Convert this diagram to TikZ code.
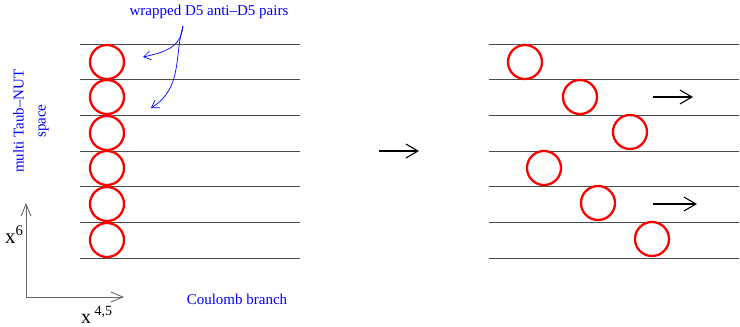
\documentclass[tikz,border=0pt]{standalone}
\usepackage{fontspec}
\setmainfont{Liberation Serif}
\usetikzlibrary{arrows.meta}

\begin{document}
\begin{tikzpicture}[x=1pt,y=-1pt,
  leaf/.style={black!70,line width=.9pt},
  brane/.style={draw=red,line width=2.3pt,circle,minimum size=34pt,inner sep=0pt},
  note/.style={blue,font=\fontsize{15}{22}\selectfont},
  move/.style={-{Straight Barb[length=12pt,width=14pt]},line width=1.1pt},
  point/.style={-{Straight Barb[length=7pt,width=9pt]},blue,line width=.7pt},
  axis/.style={-{Straight Barb[length=12pt,width=10pt]},black!60,line width=.9pt}]
  \useasboundingbox (0,0) rectangle (740,327);
  % centres of the Taub-NUT
  \foreach \y in {44,79,115,151,186,222,258} {
    \draw[leaf] (80,\y) -- (300,\y);
    \draw[leaf] (489,\y) -- (739,\y);
  }
  % branes on the left: stacked
  \foreach \i/\y in {1/62,2/97,3/133,4/168,5/204,6/240}
    \node[brane] (l\i) at (107,\y) {};
  % branes on the right: moved apart
  \node[brane] (r1) at (525,62) {};
  \node[brane] (r2) at (580,97) {};
  \node[brane] (r3) at (630,132) {};
  \node[brane] (r4) at (544,168) {};
  \node[brane] (r5) at (598,203) {};
  \node[brane] (r6) at (652,239) {};
  \draw[move] (379,151) -- (419,151);
  \draw[move] (653,97) -- (693,97);
  \draw[move] (653,204) -- (697,204);
  % labels
  \node[note] (pairs) at (209,12) {wrapped D5 anti--D5 pairs};
  \coordinate (fork) at (183,26);
  \coordinate (tip1) at (143,57);
  \coordinate (tip2) at (151,108);
  \draw[point] (fork) .. controls (181,47) and (166,52) .. (tip1);
  \draw[point] (fork) .. controls (174,56) and (183,88) .. (tip2);
  \node[note,rotate=90,align=center] (taub) at (31,121) {multi Taub--NUT\\space};
  \node[note] (coulomb) at (237,299) {Coulomb branch};
  % axes
  \coordinate (origin) at (26,297);
  \draw[axis] (origin) -- (26,203);
  \draw[axis] (origin) -- (124,297);
  \node[anchor=base west,inner sep=0pt,font=\fontsize{21}{24}\selectfont] (xsix) at (5,243) {x\textsuperscript{6}};
  \node[anchor=base west,inner sep=0pt,font=\fontsize{20}{24}\selectfont] (xfour) at (81,323) {x\,\textsuperscript{4,5}};
\end{tikzpicture}
\end{document}
